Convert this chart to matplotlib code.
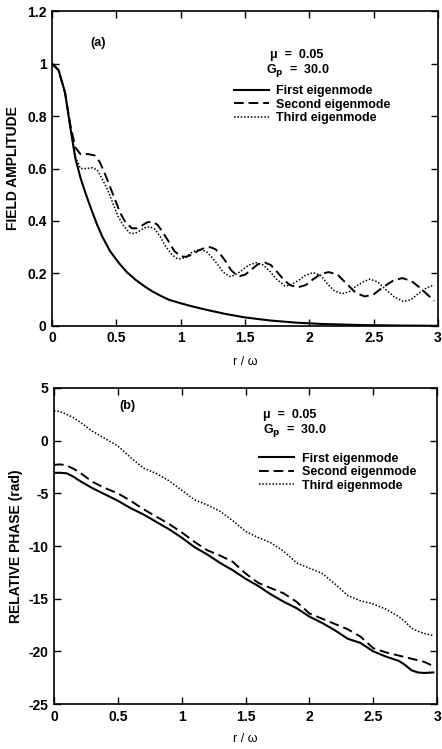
import numpy as np
import matplotlib
matplotlib.use("Agg")
import matplotlib.pyplot as plt

plt.rcParams['font.family'] = ['Liberation Sans', 'DejaVu Sans']
plt.rcParams['font.weight'] = 'bold'

# (a) field amplitude vs r/w
r1_amp = [0, 0.05, 0.1, 0.14, 0.18, 0.22, 0.26, 0.3, 0.35, 0.39, 0.45, 0.52, 0.58,
          0.65, 0.72, 0.78, 0.85, 0.91, 1.0, 1.09, 1.2, 1.35, 1.5, 1.7, 1.9, 2.1,
          2.4, 2.7, 3.0]
first_amp = [1.0, 0.975, 0.89, 0.76, 0.64, 0.565, 0.505, 0.45, 0.385, 0.34, 0.285,
             0.239, 0.205, 0.175, 0.15, 0.131, 0.113, 0.099, 0.086, 0.074, 0.061,
             0.045, 0.032, 0.02, 0.012, 0.007, 0.003, 0.001, 0.0]

r2_amp = [0, 0.05, 0.1, 0.14, 0.18, 0.22, 0.28, 0.33, 0.37, 0.41, 0.45, 0.49, 0.53,
          0.57, 0.62, 0.66, 0.70, 0.74, 0.78, 0.82, 0.86, 0.91, 0.95, 1.0, 1.04,
          1.09, 1.14, 1.19, 1.23, 1.27, 1.31, 1.35, 1.39, 1.43, 1.46, 1.50, 1.55,
          1.60, 1.655, 1.70, 1.75, 1.80, 1.85, 1.91, 1.97, 2.03, 2.09, 2.15, 2.22,
          2.29, 2.36, 2.43, 2.50, 2.57, 2.65, 2.72, 2.79, 2.86, 2.92, 2.97]
second_amp = [1.0, 0.975, 0.89, 0.77, 0.68, 0.655, 0.655, 0.65, 0.625, 0.58, 0.53,
              0.48, 0.43, 0.395, 0.372, 0.372, 0.383, 0.395, 0.397, 0.385, 0.357,
              0.318, 0.285, 0.265, 0.263, 0.272, 0.288, 0.298, 0.30, 0.292, 0.272,
              0.245, 0.213, 0.195, 0.19, 0.195, 0.215, 0.235, 0.241, 0.232, 0.205,
              0.176, 0.155, 0.147, 0.155, 0.178, 0.198, 0.205, 0.195, 0.16, 0.126,
              0.112, 0.12, 0.147, 0.172, 0.182, 0.172, 0.145, 0.118, 0.095]

r3_amp = [0, 0.05, 0.1, 0.14, 0.18, 0.22, 0.27, 0.31, 0.35, 0.39, 0.43, 0.47, 0.51,
          0.55, 0.60, 0.64, 0.68, 0.72, 0.76, 0.80, 0.84, 0.88, 0.93, 0.97, 1.0,
          1.04, 1.08, 1.12, 1.16, 1.20, 1.24, 1.29, 1.33, 1.38, 1.42, 1.47, 1.53,
          1.59, 1.64, 1.69, 1.74, 1.81, 1.86, 1.92, 1.97, 2.03, 2.09, 2.14, 2.19,
          2.25, 2.31, 2.36, 2.42, 2.47, 2.53, 2.59, 2.66, 2.73, 2.79, 2.85, 2.91, 2.97]
third_amp = [1.0, 0.975, 0.89, 0.77, 0.645, 0.60, 0.60, 0.603, 0.595, 0.56, 0.52,
             0.47, 0.42, 0.385, 0.355, 0.352, 0.362, 0.374, 0.378, 0.368, 0.34,
             0.305, 0.272, 0.257, 0.255, 0.262, 0.278, 0.288, 0.29, 0.283, 0.262,
             0.232, 0.205, 0.188, 0.193, 0.21, 0.232, 0.241, 0.232, 0.21, 0.18,
             0.152, 0.157, 0.175, 0.193, 0.203, 0.192, 0.16, 0.135, 0.122, 0.13,
             0.15, 0.168, 0.178, 0.168, 0.14, 0.11, 0.093, 0.10, 0.124, 0.145, 0.156]

# (b) relative phase vs r/w
r_ph = [0, 0.05, 0.1, 0.15, 0.2, 0.3, 0.4, 0.5, 0.6, 0.7, 0.8, 0.9, 1.0, 1.1, 1.2,
        1.3, 1.4, 1.5, 1.6, 1.7, 1.8, 1.9, 2.0, 2.1, 2.2, 2.3, 2.4, 2.5, 2.6, 2.7,
        2.75, 2.8, 2.85, 2.9, 2.97]
first_ph = [-3.05, -3.05, -3.1, -3.4, -3.8, -4.5, -5.1, -5.7, -6.4, -7.0, -7.7, -8.4,
            -9.2, -10.1, -10.8, -11.6, -12.3, -13.1, -13.8, -14.6, -15.3, -15.9,
            -16.7, -17.3, -18.0, -18.8, -19.2, -20.0, -20.5, -20.9, -21.3, -21.8,
            -22.0, -22.05, -22.0]
second_ph = [-2.3, -2.25, -2.35, -2.65, -3.0, -3.9, -4.5, -5.0, -5.7, -6.5, -7.2,
             -7.9, -8.7, -9.6, -10.4, -10.9, -11.5, -12.6, -13.5, -14.0, -14.5,
             -15.3, -16.4, -16.9, -17.4, -17.9, -18.6, -19.7, -20.1, -20.4, -20.55,
             -20.7, -20.85, -21.0, -21.4]
third_ph = [2.85, 2.75, 2.5, 2.2, 1.8, 0.9, 0.2, -0.5, -1.6, -2.6, -3.1, -3.8, -4.7,
            -5.6, -6.1, -6.7, -7.6, -8.6, -9.2, -9.7, -10.5, -11.6, -12.1, -12.6,
            -13.6, -14.7, -15.2, -15.5, -16.0, -16.7, -17.2, -17.8, -18.1, -18.3,
            -18.5]

labels = ['First eigenmode', 'Second eigenmode', 'Third eigenmode']
styles = [dict(ls='-', lw=1.5), dict(ls=(0, (5, 2.5)), lw=1.4), dict(ls=(0, (1, 1.2)), lw=1.1)]

fig = plt.figure(figsize=(4.42, 7.49), dpi=100)
ax1 = fig.add_axes([0.118, 0.565, 0.873, 0.420])
ax2 = fig.add_axes([0.122, 0.060, 0.867, 0.422])

def style_axes(ax):
    ax.tick_params(direction='in', top=True, right=True, length=5, width=1,
                   labelsize=10, pad=4)
    for s in ax.spines.values():
        s.set_linewidth(1.2)
    ax.set_xlim(0, 3)
    ax.set_xticks([0, 0.5, 1, 1.5, 2, 2.5, 3])
    ax.set_xticklabels(['0', '0.5', '1', '1.5', '2', '2.5', '3'], fontweight='bold')

# top panel
for x, y, lab, st in zip([r1_amp, r2_amp, r3_amp], [first_amp, second_amp, third_amp], labels, styles):
    ax1.plot(x, y, color='black', label=lab, **st)
style_axes(ax1)
ax1.set_xlabel('r / \u03c9', fontsize=9, fontweight='normal', labelpad=8)
ax1.set_ylim(0, 1.2)
ax1.set_yticks([0, 0.2, 0.4, 0.6, 0.8, 1.0, 1.2])
ax1.set_yticklabels(['0', '0.2', '0.4', '0.6', '0.8', '1', '1.2'], fontweight='bold')
ax1.set_ylabel('FIELD AMPLITUDE', fontsize=10, fontweight='bold', labelpad=5)
ax1.text(0.1, 0.89, '(a)', transform=ax1.transAxes, fontsize=9, fontweight='bold')
ax1.text(0.565, 0.852, '\u03bc  =  0.05', transform=ax1.transAxes, fontsize=9, fontweight='bold')
ax1.text(0.555, 0.805, 'G$_\\mathbf{p}$  =  30.0', transform=ax1.transAxes, fontsize=9, fontweight='bold')
ax1.legend(loc='upper left', bbox_to_anchor=(0.455, 0.785), frameon=False, fontsize=9,
           handlelength=2.8, handletextpad=0.6, labelspacing=0.12, borderpad=0)

# bottom panel
for y, lab, st in zip([first_ph, second_ph, third_ph], labels, styles):
    ax2.plot(r_ph, y, color='black', label=lab, **st)
style_axes(ax2)
ax2.set_xlabel('r / \u03c9', fontsize=9, fontweight='normal', labelpad=7)
ax2.set_ylim(-25, 5)
ax2.set_yticks([5, 0, -5, -10, -15, -20, -25])
ax2.set_yticklabels(['5', '0', '-5', '-10', '-15', '-20', '-25'], fontweight='bold')
ax2.set_ylabel('RELATIVE PHASE (rad)', fontsize=10, fontweight='bold', labelpad=4)
ax2.text(0.172, 0.935, '(b)', transform=ax2.transAxes, fontsize=9, fontweight='bold')
ax2.text(0.545, 0.905, '\u03bc  =  0.05', transform=ax2.transAxes, fontsize=9, fontweight='bold')
ax2.text(0.545, 0.858, 'G$_\\mathbf{p}$  =  30.0', transform=ax2.transAxes, fontsize=9, fontweight='bold')
ax2.legend(loc='upper left', bbox_to_anchor=(0.52, 0.815), frameon=False, fontsize=9,
           handlelength=2.8, handletextpad=0.6, labelspacing=0.12, borderpad=0)

fig.savefig('out.png', dpi=100)
